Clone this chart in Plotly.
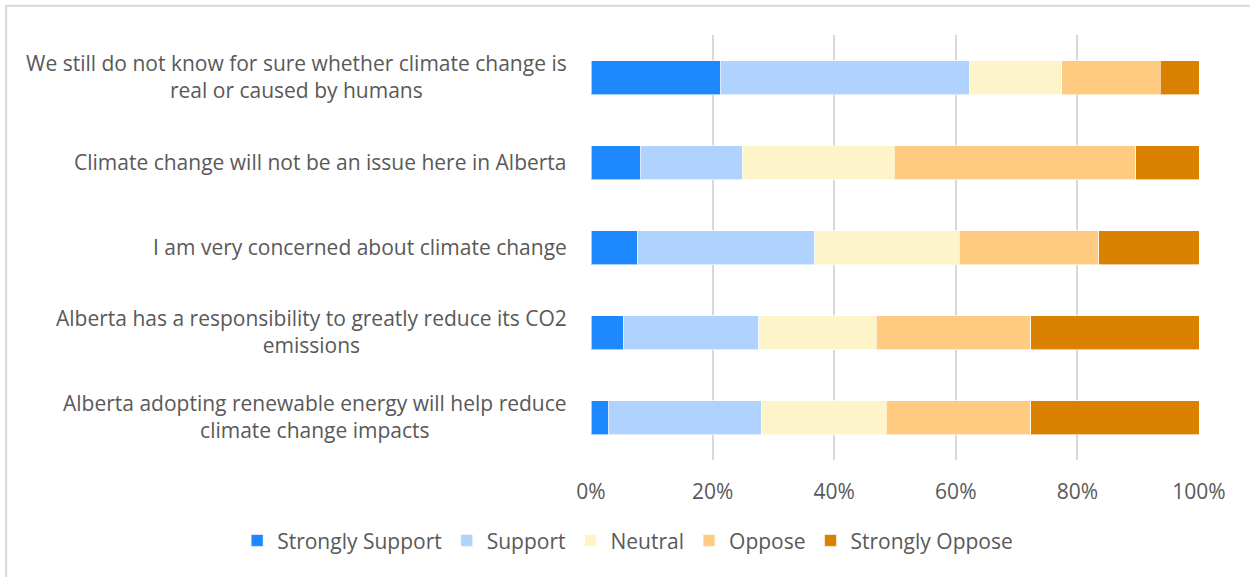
import plotly.graph_objects as go

statements = [
    "We still do not know for sure whether climate change is<br>real or caused by humans",
    "Climate change will not be an issue here in Alberta",
    "I am very concerned about climate change",
    "Alberta has a responsibility to greatly reduce its CO2<br>emissions",
    "Alberta adopting renewable energy will help reduce<br>climate change impacts",
]
series_names = ["Strongly Support", "Support", "Neutral", "Oppose", "Strongly Oppose"]
strongly_support = [21.3, 8.2, 7.6, 5.4, 2.9]
support = [41.0, 16.7, 29.2, 22.2, 25.1]
neutral = [15.1, 25.0, 23.8, 19.3, 20.6]
oppose = [16.2, 39.7, 22.9, 25.4, 23.7]
strongly_oppose = [6.4, 10.4, 16.5, 27.7, 27.7]
colors = ["#1E88FE", "#AFD3FE", "#FDF4C9", "#FECB80", "#DA8200"]
x_ticks = [0, 20, 40, 60, 80, 100]
x_tick_labels = ["0%", "20%", "40%", "60%", "80%", "100%"]

FONT = "Open Sans"
FS = 21
TXT = "#595959"
cats = [f"s{i}" for i in range(len(statements))]

fig = go.Figure()
for name, vals, col in zip(series_names,
                           [strongly_support, support, neutral, oppose, strongly_oppose],
                           colors):
    fig.add_trace(go.Bar(
        y=cats, x=vals, name=name, orientation="h",
        marker=dict(color=col, line=dict(color="rgba(255,255,255,0.6)", width=1)),
    ))

for c, s in zip(cats, statements):
    fig.add_annotation(x=0, xref="paper", y=c, yref="y", text=s,
                       xanchor="right", yanchor="middle", align="center",
                       xshift=-22, yshift=1, showarrow=False,
                       font=dict(family=FONT, size=FS, color=TXT))

# chart border
fig.add_shape(type="rect", xref="paper", yref="paper",
              x0=-0.962, x1=1.2, y0=-0.5, y1=1.069,
              line=dict(color="#D9D9D9", width=2), layer="below")

fig.update_layout(
    width=1250, height=577,
    barmode="stack", bargap=0.6,
    plot_bgcolor="white", paper_bgcolor="white",
    margin=dict(l=591, r=51, t=35, b=117),
    font=dict(family=FONT, size=FS, color=TXT),
    showlegend=True,
    legend=dict(orientation="h", xref="paper", yref="paper",
                x=-0.582, y=-0.19, xanchor="left", yanchor="middle",
                font=dict(family=FONT, size=FS, color=TXT),
                traceorder="normal", itemwidth=30),
)
fig.update_xaxes(range=[0, 100], tickvals=x_ticks, ticktext=x_tick_labels,
                 showgrid=True, gridcolor="#D9D9D9", gridwidth=1.5,
                 zeroline=False, showline=False, ticks="",
                 ticklabelstandoff=17,
                 tickfont=dict(family=FONT, size=FS, color=TXT))
fig.update_yaxes(categoryorder="array", categoryarray=cats[::-1],
                 showticklabels=False, showgrid=False, zeroline=False,
                 showline=False, ticks="")

fig.write_html("out.html", config={"displayModeBar": False},
               post_script="document.body.style.margin='0';document.body.style.overflow='hidden';")
